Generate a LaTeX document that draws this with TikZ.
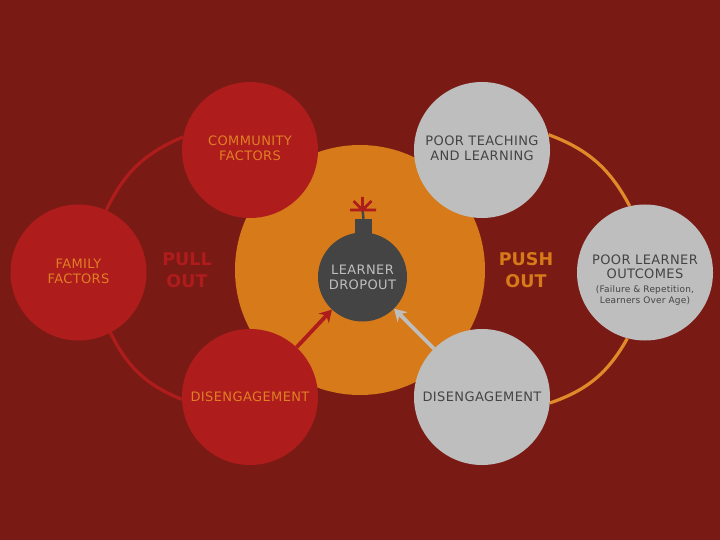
\documentclass[tikz,border=0pt]{standalone}
\usepackage{fontspec}
\setmainfont{DejaVu Sans}
\newfontfamily\lblfont[LetterSpace=3]{DejaVu Sans}
\newfontfamily\smallfont[LetterSpace=2]{DejaVu Sans}
\usetikzlibrary{arrows.meta,backgrounds}
\definecolor{bgred}{HTML}{7A1A14}
\definecolor{cred}{HTML}{AE1C1C}
\definecolor{cgrey}{HTML}{BEBEBE}
\definecolor{corange}{HTML}{D67A1A}
\definecolor{arcorange}{HTML}{E08A2A}
\definecolor{tred}{HTML}{E07F25}
\definecolor{cdark}{HTML}{444444}
\newcommand{\lblsize}{\lblfont\fontsize{13}{15}\selectfont}
\newcommand{\notesize}{\smallfont\fontsize{9}{11}\selectfont}
\newcommand{\pushup}[1]{\rule[-#1pt]{0pt}{#1pt}}
\newcommand{\pushdown}[1]{\rule{0pt}{#1pt}}
\tikzset{
  x=1pt,y=-1pt,
  roundnode/.style={circle,minimum size=136pt,inner sep=0pt,align=center},
  redc/.style={roundnode,fill=cred,text=tred,font=\lblsize},
  greyc/.style={roundnode,fill=cgrey,text=cdark,font=\lblsize},
  bigword/.style={align=center,font=\bfseries\fontsize{17.5}{22}\selectfont},
  redarc/.style={draw=cred,line width=3.2pt},
  orgarc/.style={draw=arcorange,line width=3.2pt},
  feed/.style={line width=3.8pt,-{Stealth[length=12pt,width=14pt]}}
}
\begin{document}
\begin{tikzpicture}
\useasboundingbox (0,0) rectangle (720,540);
\node[circle,minimum size=250pt,inner sep=0pt,fill=corange] (core) at (360,270) {};
\node[redc] (comm) at (250,150) {COMMUNITY\\FACTORS\pushup{3}};
\node[greyc] (teach) at (482,150) {POOR TEACHING\\AND LEARNING\pushup{3}};
\node[redc] (fam) at (78.5,272.5) {FAMILY\\FACTORS\pushup{3}};
\node[greyc] (poorout) at (645,272.5) {\pushdown{25}POOR LEARNER\\[-1pt]OUTCOMES\\[-1pt]\notesize (Failure \& Repetition,\\[-4pt]\notesize Learners Over Age)};
\node[redc] (dis1) at (250,397) {DISENGAGEMENT};
\node[greyc] (dis2) at (482,397) {DISENGAGEMENT};
\node[bigword,text=cred] (pull) at (187,270.5) {PULL\\OUT};
\node[bigword,text=corange] (push) at (526,270.5) {PUSH\\OUT};
\node[rectangle,minimum width=17pt,minimum height=15pt,inner sep=0pt,fill=cdark] (neck) at (363.5,226.5) {};
\coordinate (spark) at (362.5,210);
\draw[cdark,line width=2.4pt] (neck.north) -- (spark);
\draw[cred,line width=2.6pt] (350,210) -- (376,210)
  (spark) -- (362.5,197) (spark) -- (353.5,201) (spark) -- (371.5,201);
\node[circle,minimum size=89pt,inner sep=0pt,fill=cdark,text=cgrey,align=center,font=\lblsize] (bomb) at (362.5,277) {LEARNER\\DROPOUT};
\draw[feed,cred] (dis1) -- (bomb);
\draw[feed,cgrey] (dis2) -- (bomb);
\begin{scope}[on background layer]
\fill[bgred] (0,0) rectangle (720,540);
\draw[redarc] (fam.66) to[bend left=21] (comm.169);
\draw[redarc] (fam.-62) to[bend right=21] (dis1.182);
\draw[orgarc] (teach.13) to[bend left=21] (poorout.103);
\draw[orgarc] (poorout.255) to[bend left=21] (dis2.-5);
\end{scope}
\end{tikzpicture}
\end{document}
